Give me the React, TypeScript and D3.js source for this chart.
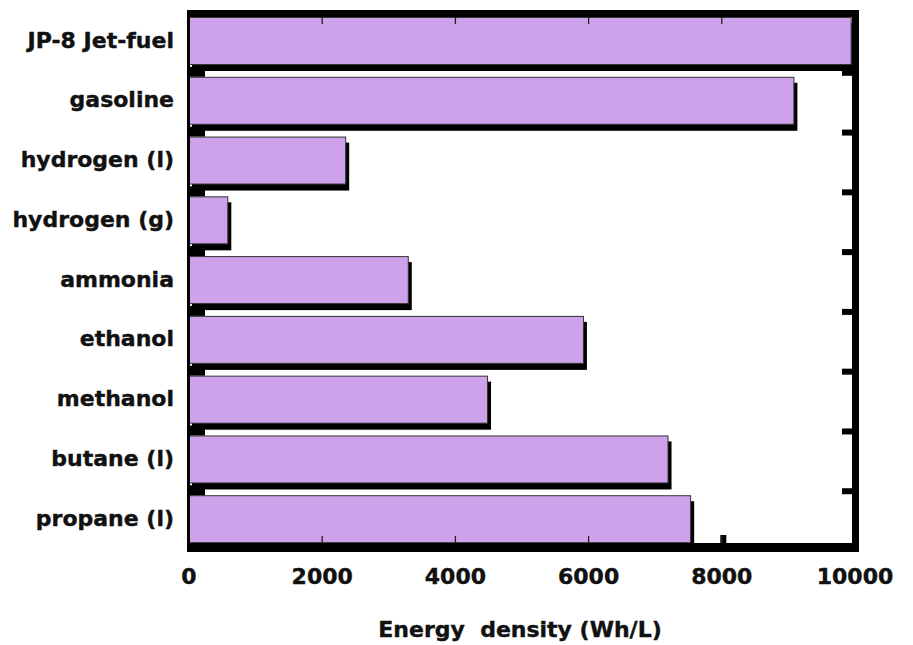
import React from "react";
import * as d3 from "d3";

const categories = [
  "JP-8 Jet-fuel",
  "gasoline",
  "hydrogen (l)",
  "hydrogen (g)",
  "ammonia",
  "ethanol",
  "methanol",
  "butane (l)",
  "propane (l)",
];
const values = [9950, 9090, 2360, 590, 3300, 5930, 4490, 7200, 7540];
const xTicks = [0, 2000, 4000, 6000, 8000, 10000];
const xLabel = "Energy  density (Wh/L)";

const W = 913;
const H = 645;
const FONT = "'DejaVu Sans', 'Liberation Sans', Arial, sans-serif";
const PURPLE = "#cea2ea";

export default function App() {
  const x = d3.scaleLinear().domain([0, 10000]).range([189, 855]);
  const y = d3.scaleBand<string>().domain(categories).range([17, 555]).paddingInner(0);
  const barH = 48;
  const frameL = 187;
  const frameT = 10;
  const frameR = 859;
  const frameB = 552;

  return (
    <svg
      width={W}
      height={H}
      style={{ position: "absolute", left: 0, top: 0, background: "#fff" }}
      fontFamily={FONT}
    >
      {/* thick tick stubs under bars (bottom axis) */}
      {xTicks.slice(1, -1).map((t) => (
        <rect key={"bt" + t} x={x(t) - 1.5} y={535} width={6} height={10} fill="#000" />
      ))}
      {/* bar shadows */}
      {categories.map((c, i) => (
        <rect
          key={"s" + c}
          x={x(0) + 3}
          y={(y(c) as number) + 6}
          width={x(values[i]) - x(0)}
          height={barH}
          fill="#000"
        />
      ))}
      {/* bars */}
      {categories.map((c, i) => (
        <rect
          key={"b" + c}
          x={x(0) + 0.5}
          y={(y(c) as number) + 0.5}
          width={x(values[i]) - x(0) - 1}
          height={barH - 1}
          fill={PURPLE}
          stroke="#333"
          strokeWidth={1}
        />
      ))}
      {/* thin ticks on top of bars */}
      {xTicks.slice(1, -1).map((t) => (
        <g key={"tt" + t}>
          <line x1={x(t)} x2={x(t)} y1={536} y2={543} stroke="#222" strokeWidth={1.3} />
          <line x1={x(t)} x2={x(t)} y1={17} y2={24} stroke="#222" strokeWidth={1.3} />
        </g>
      ))}
      {/* frame */}
      <rect x={frameL} y={frameT} width={frameR - frameL} height={7} fill="#000" />
      <rect x={852} y={frameT} width={frameR - 852} height={frameB - frameT} fill="#000" />
      <rect x={frameL} y={543} width={frameR - frameL} height={frameB - 543} fill="#000" />
      <rect x={frameL} y={frameT} width={3} height={frameB - frameT} fill="#000" />
      {/* left / right category ticks */}
      {categories.slice(1).map((c) => {
        const top = y(c) as number;
        return (
          <g key={"ct" + c}>
            <rect x={frameL} y={top - 10} width={18} height={10} fill="#000" />
            <rect x={842} y={top - 7} width={12} height={6} fill="#000" />
          </g>
        );
      })}
      {/* category labels */}
      {categories.map((c) => (
        <text
          key={"l" + c}
          x={174}
          y={(y(c) as number) + barH / 2 - 1}
          textAnchor="end"
          dominantBaseline="central"
          fontSize={22}
          fontWeight="bold"
          fill="#111"
          stroke="#111"
          strokeWidth={0.4}
        >
          {c}
        </text>
      ))}
      {/* x tick labels */}
      {xTicks.map((t) => (
        <text
          key={"xl" + t}
          x={x(t)}
          y={584}
          textAnchor="middle"
          fontSize={22}
          fontWeight="bold"
          fill="#111"
          stroke="#111"
          strokeWidth={0.4}
        >
          {t}
        </text>
      ))}
      <text
        x={520}
        y={637}
        textAnchor="middle"
        fontSize={22}
        fontWeight="bold"
        fill="#111"
        stroke="#111"
        strokeWidth={0.4}
        style={{ whiteSpace: "pre" }}
      >
        {xLabel}
      </text>
    </svg>
  );
}
